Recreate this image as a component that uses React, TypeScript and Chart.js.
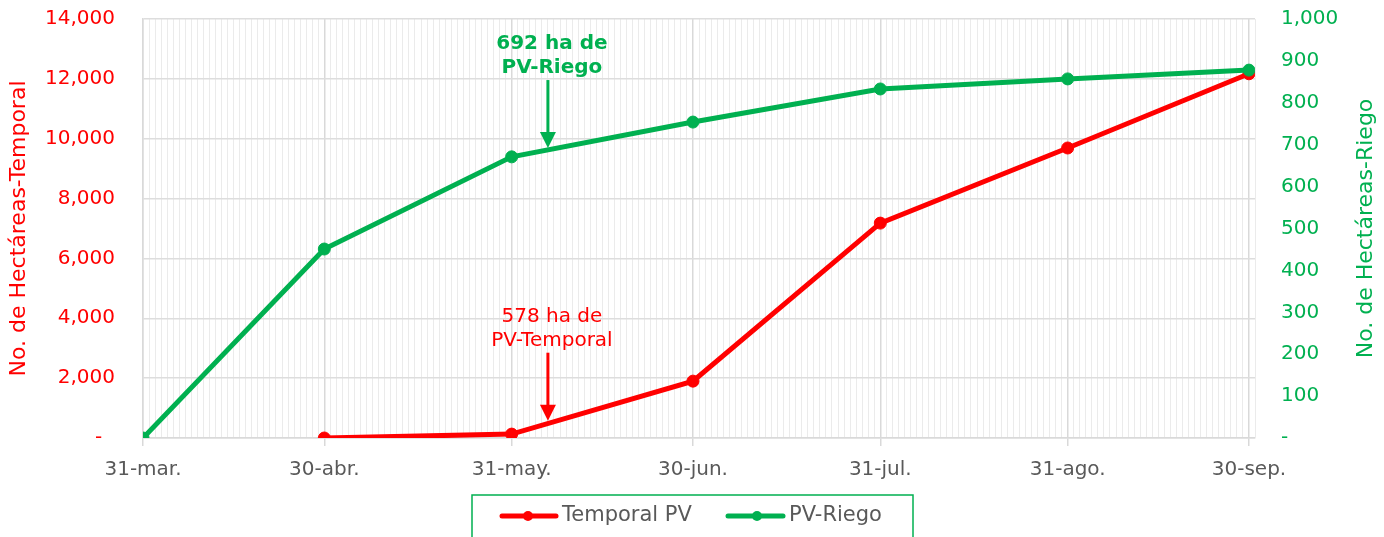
import React, { useEffect, useRef } from 'react';
import { Chart, registerables } from 'chart.js';

Chart.register(...registerables);

const categories = ['31-mar.', '30-abr.', '31-may.', '30-jun.', '31-jul.', '31-ago.', '30-sep.'];
const categoryDays = [0, 30, 61, 91, 122, 153, 183];
const temporalValues: (number | null)[] = [null, 0, 130, 1900, 7180, 9690, 12170];
const riegoValues = [0, 451, 671, 754, 833, 857, 878];
const seriesNames = ['Temporal PV', 'PV-Riego'];
const leftTicks = [0, 2000, 4000, 6000, 8000, 10000, 12000, 14000];
const rightTicks = [0, 100, 200, 300, 400, 500, 600, 700, 800, 900, 1000];
const annotationDay = 67;
const riegoAnnotValue = 692;
const temporalAnnotValue = 578;
const riegoAnnotLines = ['692 ha de', 'PV-Riego'];
const temporalAnnotLines = ['578 ha de', 'PV-Temporal'];
const leftTitle = 'No. de Hectáreas-Temporal';
const rightTitle = 'No. de Hectáreas-Riego';

const RED = '#ff0000';
const GREEN = '#00b050';
const GRAY = '#595959';
const FONT = "'DejaVu Sans', 'Open Sans', sans-serif";

function drawAnnot(ctx: CanvasRenderingContext2D, x: number, tip: number, lines: string[], color: string, weight: string) {
  ctx.save();
  ctx.strokeStyle = color;
  ctx.fillStyle = color;
  ctx.lineWidth = 3;
  ctx.beginPath();
  ctx.moveTo(x, tip - 68);
  ctx.lineTo(x, tip - 14);
  ctx.stroke();
  ctx.beginPath();
  ctx.moveTo(x - 8, tip - 16);
  ctx.lineTo(x + 8, tip - 16);
  ctx.lineTo(x, tip);
  ctx.closePath();
  ctx.fill();
  ctx.font = `${weight} 20px ${FONT}`;
  ctx.textAlign = 'center';
  ctx.textBaseline = 'middle';
  ctx.fillText(lines[0], x + 4, tip - 104);
  ctx.fillText(lines[1], x + 4, tip - 80);
  ctx.restore();
}

const extrasPlugin = {
  id: 'extras',
  afterDatasetsDraw(chart: any) {
    const { ctx, scales, chartArea, width } = chart;
    const x = scales.x.getPixelForValue(annotationDay);
    drawAnnot(ctx, x, scales.yR.getPixelForValue(riegoAnnotValue), riegoAnnotLines, GREEN, 'bold');
    drawAnnot(ctx, x, scales.y.getPixelForValue(temporalAnnotValue), temporalAnnotLines, RED, 'normal');

    // right axis title (reads bottom to top)
    ctx.save();
    ctx.translate(width - 18, (chartArea.top + chartArea.bottom) / 2);
    ctx.rotate(-Math.PI / 2);
    ctx.fillStyle = GREEN;
    ctx.font = `normal 22px ${FONT}`;
    ctx.textAlign = 'center';
    ctx.textBaseline = 'middle';
    ctx.fillText(rightTitle, 0, 0);
    ctx.restore();

    // legend
    ctx.save();
    const bl = width / 2 - 220;
    const bt = 495;
    ctx.strokeStyle = GREEN;
    ctx.lineWidth = 1.5;
    ctx.strokeRect(bl, bt, 441, 60);
    const items = [
      { color: RED, x0: 30, x1: 84, dot: 56, tx: 90, label: seriesNames[0] },
      { color: GREEN, x0: 256, x1: 311, dot: 285, tx: 317, label: seriesNames[1] },
    ];
    const ly = 516;
    for (const it of items) {
      ctx.strokeStyle = it.color;
      ctx.fillStyle = it.color;
      ctx.lineWidth = 5;
      ctx.lineCap = 'round';
      ctx.beginPath();
      ctx.moveTo(bl + it.x0, ly);
      ctx.lineTo(bl + it.x1, ly);
      ctx.stroke();
      ctx.beginPath();
      ctx.arc(bl + it.dot, ly, 5, 0, Math.PI * 2);
      ctx.fill();
      ctx.fillStyle = GRAY;
      ctx.font = `normal 21px ${FONT}`;
      ctx.textAlign = 'left';
      ctx.textBaseline = 'middle';
      ctx.fillText(it.label, bl + it.tx, ly);
    }
    ctx.restore();
  },
};

export default function App() {
  const canvasRef = useRef<HTMLCanvasElement | null>(null);

  useEffect(() => {
    if (!canvasRef.current) return;
    const temporalData = categoryDays
      .map((d, i) => ({ x: d, y: temporalValues[i] }))
      .filter((p) => p.y !== null);
    const riegoData = categoryDays.map((d, i) => ({ x: d, y: riegoValues[i] }));

    const chart = new Chart(canvasRef.current, {
      type: 'line',
      data: {
        datasets: [
          {
            label: seriesNames[0],
            data: temporalData as any,
            yAxisID: 'y',
            borderColor: RED,
            backgroundColor: RED,
            borderWidth: 5,
            pointRadius: 6,
            pointBorderWidth: 1,
            pointBackgroundColor: RED,
            pointBorderColor: RED,
            order: 1,
          },
          {
            label: seriesNames[1],
            data: riegoData as any,
            yAxisID: 'yR',
            borderColor: GREEN,
            backgroundColor: GREEN,
            borderWidth: 5,
            pointRadius: 6,
            pointBorderWidth: 1,
            pointBackgroundColor: GREEN,
            pointBorderColor: GREEN,
            order: 0,
          },
        ],
      },
      options: {
        responsive: false,
        animation: false,
        layout: { padding: { top: 19, bottom: 0, left: 0, right: 0 } },
        plugins: {
          legend: { display: false },
          tooltip: { enabled: false },
        },
        scales: {
          x: {
            type: 'linear',
            min: 0,
            max: 184,
            afterFit: (s: any) => {
              s.height = 99;
            },
            ticks: {
              stepSize: 1,
              autoSkip: false,
              maxRotation: 0,
              padding: 12,
              color: GRAY,
              font: { family: FONT, size: 20 },
              callback: (v: any) => {
                const idx = categoryDays.indexOf(Number(v));
                return idx >= 0 ? categories[idx] : '';
              },
            },
            grid: {
              color: (c: any) => (categoryDays.includes(c.tick?.value) ? '#d9d9d9' : '#ebebeb'),
              tickColor: (c: any) => (categoryDays.includes(c.tick?.value) ? '#d9d9d9' : 'rgba(0,0,0,0)'),
              tickLength: 8,
              lineWidth: (c: any) => (categoryDays.includes(c.tick?.value) ? 1.5 : 1),
            },
            border: { color: '#d9d9d9', width: 1.5 },
          },
          y: {
            type: 'linear',
            position: 'left',
            min: 0,
            max: 14000,
            afterFit: (s: any) => {
              s.width = 143;
              s.paddingTop = 0;
              s.paddingBottom = 0;
            },
            afterBuildTicks: (s: any) => {
              s.ticks = leftTicks.map((v) => ({ value: v }));
            },
            ticks: {
              padding: 28,
              color: RED,
              font: { family: FONT, size: 20 },
              callback: (v: any) => (Number(v) === 0 ? '-  ' : Number(v).toLocaleString('en-US')),
            },
            title: {
              display: true,
              text: leftTitle,
              color: RED,
              padding: { top: 6, bottom: 0 },
              font: { family: FONT, size: 22 },
            },
            grid: { color: '#dddddd', lineWidth: 1.5, drawTicks: false },
            border: { color: '#d9d9d9', width: 1.5 },
          },
          yR: {
            type: 'linear',
            position: 'right',
            min: 0,
            max: 1000,
            afterFit: (s: any) => {
              s.width = 129;
              s.paddingTop = 0;
              s.paddingBottom = 0;
            },
            afterBuildTicks: (s: any) => {
              s.ticks = rightTicks.map((v) => ({ value: v }));
            },
            ticks: {
              padding: 26,
              color: GREEN,
              font: { family: FONT, size: 20 },
              callback: (v: any) => (Number(v) === 0 ? '-' : Number(v).toLocaleString('en-US')),
            },
            grid: { drawOnChartArea: false, drawTicks: false },
            border: { display: false },
          },
        },
      },
      plugins: [extrasPlugin],
    });
    return () => chart.destroy();
  }, []);

  return (
    <div style={{ position: 'absolute', left: 0, top: 0, width: 1384, height: 537, background: '#fff' }}>
      <canvas ref={canvasRef} width={1384} height={537} style={{ display: 'block' }} />
    </div>
  );
}
